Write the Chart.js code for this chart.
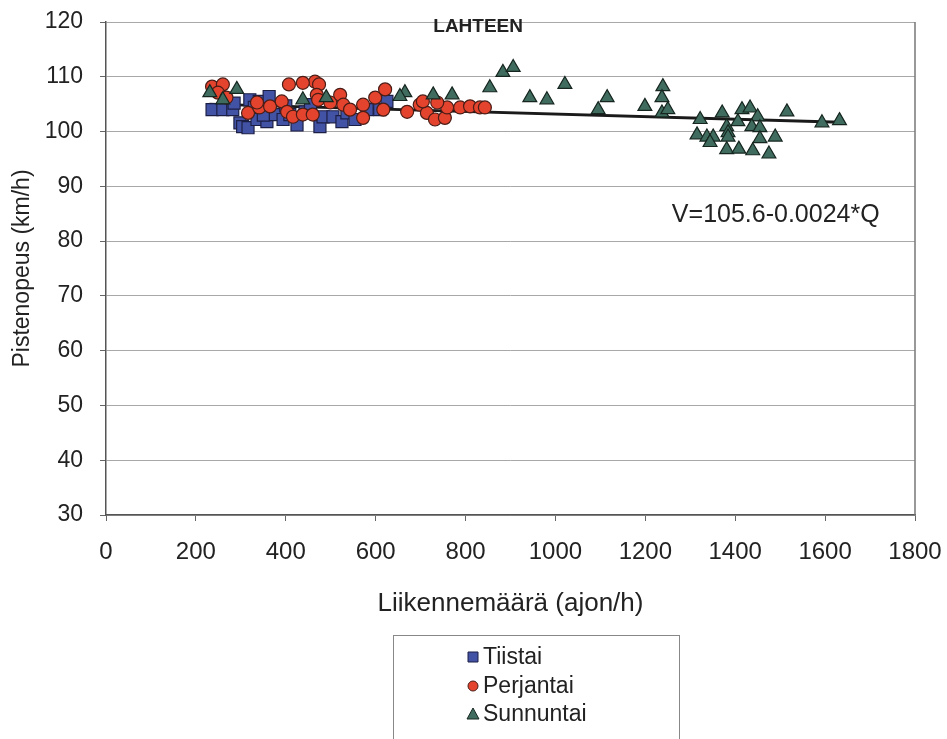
<!DOCTYPE html>
<html>
<head>
<meta charset="utf-8">
<script src="https://cdn.jsdelivr.net/npm/chart.js@4/dist/chart.umd.min.js"></script>
<style>
  html,body{margin:0;padding:0;background:#fff;}
  #wrap{width:947px;height:739px;position:relative;}
</style>
</head>
<body>
<div id="wrap"><canvas id="myChart" width="947" height="739"></canvas></div>
<script>
// Tiistai (squares)
const tiistaiX=[236,260,282,298,304,316,320,341,363,336,358,376,394,409,425,443,476,483,505,525,536,554,581,609,625,285,330,400,455,350];
const tiistaiY=[104.0,104.0,104.0,101.6,100.9,100.7,105.8,105.5,106.4,102.2,101.8,103.1,102.2,103.1,101.2,103.6,100.9,102.7,102.7,101.8,103.4,102.2,104.0,104.0,105.5,105.2,104.4,104.7,104.9,103.0];
// Perjantai (circles)
const perjantaiX=[236,260,249,407,465,474,316,341,336,365,391,403,416,438,460,469,472,499,521,528,543,572,572,599,621,617,670,698,714,732,754,759,788,810,832,843,705,737,438,268];
const perjantaiY=[108.2,108.6,107.1,108.6,109.1,108.6,103.4,104.4,105.3,104.6,105.5,103.6,102.7,103.1,103.1,106.7,105.8,105.3,106.7,104.9,104.0,104.9,102.5,106.2,107.7,104.0,103.6,104.9,103.4,102.2,102.5,104.4,104.4,104.6,104.4,104.4,105.5,105.3,108.9,106.2];
// Sunnuntai (triangles)
const sunnuntaiX=[231,260,291,438,490,665,654,728,770,854,883,906,943,981,1021,1095,1115,1199,1239,1237,1237,1250,1322,1371,1415,1433,1450,1515,1593,1632,1315,1337,1351,1344,1381,1384,1384,1406,1437,1455,1455,1489,1381,1408,1439,1475];
const sunnuntaiY=[107.1,105.8,107.7,105.8,106.2,107.1,106.4,106.7,106.7,108.0,110.8,111.7,106.2,105.8,108.6,104.0,106.2,104.6,108.2,106.2,103.4,104.0,102.2,103.4,104.0,104.3,102.7,103.6,101.6,102.0,99.4,99.0,99.0,98.0,100.9,99.8,99.0,101.8,100.9,100.7,98.7,99.0,96.7,96.8,96.5,95.9];
// trend line end points (V=105.6-0.0024*Q)
const trendX=[230,1635];
const trendY=[105.0,101.7];
const xTicks=[0,200,400,600,800,1000,1200,1400,1600,1800];
const yTicks=[30,40,50,60,70,80,90,100,110,120];

const seriesNames=['Tiistai','Perjantai','Sunnuntai'];

const pts=(xs,ys)=>xs.map((x,i)=>({x:x,y:ys[i]}));
const FONT="'Liberation Sans', Arial, sans-serif";

const sq={fill:'#4253a6',line:'#1c1f45'};
const ci={fill:'#e4432e',line:'#4a1d16'};
const tr={fill:'#3f6c5f',line:'#16261f'};

// drop the label overhang padding so layout padding fixes the plot box
const noPad=s=>{s.paddingLeft=0;s.paddingRight=0;s.paddingTop=0;s.paddingBottom=0;};

let textPlugin={
  id:'texts',
  afterDatasetsDraw(chart){
    const c=chart.ctx, xs=chart.scales.x, ys=chart.scales.y;
    c.save();
    c.fillStyle='#222';
    c.textBaseline='middle';
    c.font="bold 19px "+FONT;
    c.textAlign='center';
    c.fillText('LAHTEEN',xs.getPixelForValue(828),ys.getPixelForValue(119.1));
    c.font="25px "+FONT;
    c.textAlign='left';
    c.fillText('V=105.6-0.0024*Q',xs.getPixelForValue(1259),ys.getPixelForValue(84.8));
    // right border of plot
    const a=chart.chartArea;
    c.strokeStyle='#777';
    c.lineWidth=1.5;
    c.beginPath();
    c.moveTo(a.right,a.top);c.lineTo(a.right,a.bottom);
    c.stroke();
    c.restore();
  },
  afterDraw(chart){
    const c=chart.ctx;
    c.save();
    c.strokeStyle='#888';
    c.lineWidth=1;
    c.strokeRect(393.5,635.5,286,120);
    const styles=[sq,ci,tr];
    const ys=[657,686,714];
    c.font="23px "+FONT;
    c.textBaseline='middle';
    c.textAlign='left';
    seriesNames.forEach((n,i)=>{
      const s=styles[i], y=ys[i], x=473;
      c.fillStyle=s.fill;c.strokeStyle=s.line;c.lineWidth=1;
      c.beginPath();
      if(i==0){c.rect(x-5,y-5,10,10);}
      else if(i==1){c.arc(x,y,5,0,Math.PI*2);}
      else{c.moveTo(x,y-6);c.lineTo(x+6,y+5);c.lineTo(x-6,y+5);c.closePath();}
      c.fill();c.stroke();
      c.fillStyle='#222';
      c.fillText(n,x+10,y+1);
    });
    c.restore();
  }
};

window.addEventListener('load',()=>{
  const ctx=document.getElementById('myChart');
  new Chart(ctx,{
    type:'scatter',
    data:{
      datasets:[
        {label:'trend',type:'line',data:pts(trendX,trendY),borderColor:'#1a1a1a',borderWidth:2.8,pointRadius:0,fill:false,order:10},
        {label:seriesNames[0],data:pts(tiistaiX,tiistaiY),pointStyle:'rect',pointRadius:8.5,backgroundColor:sq.fill,borderColor:sq.line,borderWidth:1.2,order:3},
        {label:seriesNames[1],data:pts(perjantaiX,perjantaiY),pointStyle:'circle',pointRadius:6.5,backgroundColor:ci.fill,borderColor:ci.line,borderWidth:1.2,order:2},
        {label:seriesNames[2],data:pts(sunnuntaiX,sunnuntaiY),pointStyle:'triangle',pointRadius:8,backgroundColor:tr.fill,borderColor:tr.line,borderWidth:1.2,order:1}
      ]
    },
    options:{
      responsive:false,
      animation:false,
      layout:{padding:{top:22,right:32,left:0,bottom:114}},
      plugins:{legend:{display:false},tooltip:{enabled:false}},
      scales:{
        x:{
          type:'linear',min:0,max:1800,
          afterBuildTicks:s=>{s.ticks=xTicks.map(v=>({value:v}));},
          afterFit:s=>{s.height=110;noPad(s);},
          grid:{drawOnChartArea:false,drawTicks:true,tickLength:6,color:'#666'},
          border:{color:'#555',width:1.5},
          ticks:{font:{family:FONT,size:24},color:'#222',padding:17,maxRotation:0,callback:v=>String(v)},
          title:{display:true,text:'Liikennemäärä (ajon/h)',font:{family:FONT,size:26},color:'#222',padding:{top:4,bottom:6}}
        },
        y:{
          min:30,max:120,
          afterBuildTicks:s=>{s.ticks=yTicks.map(v=>({value:v}));},
          afterFit:s=>{s.width=106;noPad(s);},
          grid:{color:'#a8a8a8',lineWidth:1,tickLength:6,tickColor:'#666'},
          border:{color:'#555',width:1.5},
          ticks:{font:{family:FONT,size:23},color:'#222',padding:17,callback:v=>String(v)},
          title:{display:true,text:'Pistenopeus (km/h)',font:{family:FONT,size:23},color:'#222',padding:{top:9,bottom:0}}
        }
      }
    },
    plugins:[textPlugin]
  });
});
</script>
</body>
</html>
